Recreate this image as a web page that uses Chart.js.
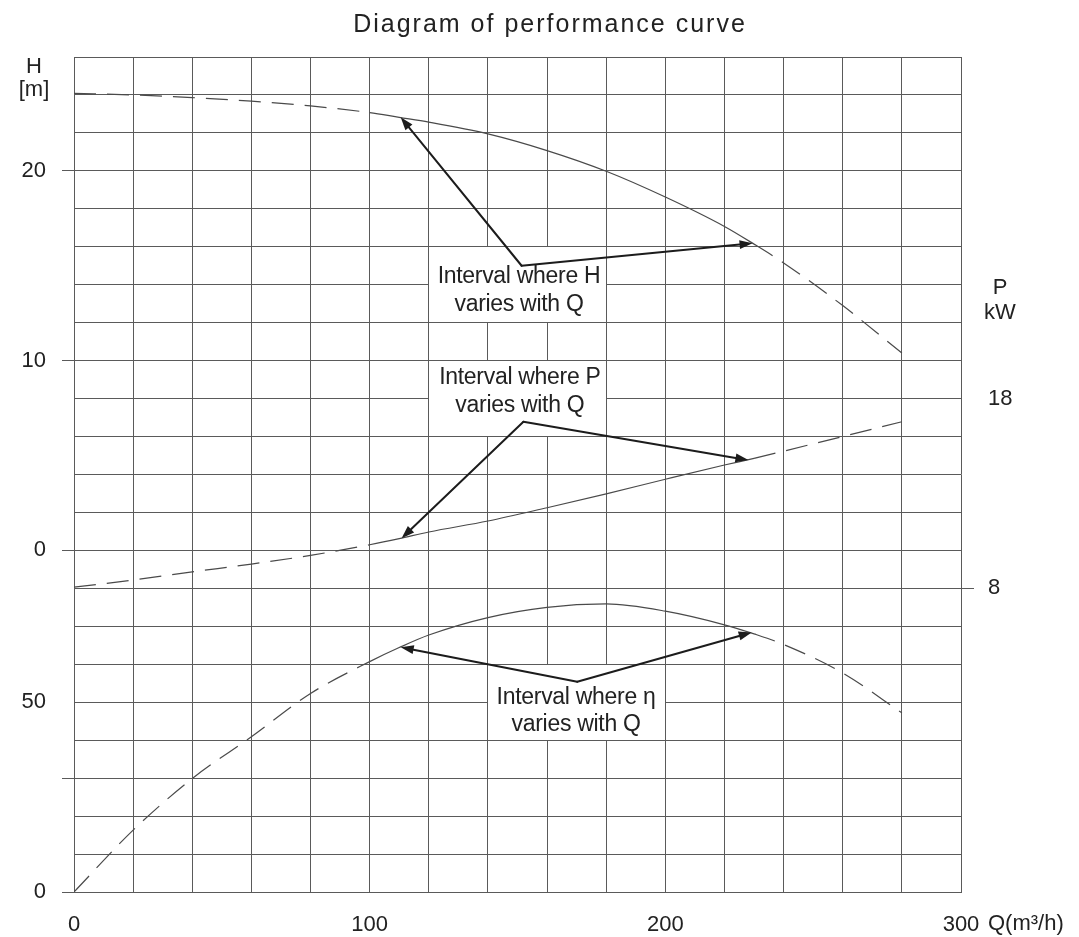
<!DOCTYPE html>
<html>
<head>
<meta charset="utf-8">
<script src="https://cdn.jsdelivr.net/npm/chart.js@4/dist/chart.umd.min.js"></script>
<style>
  html, body { margin: 0; padding: 0; background: #ffffff; }
  #wrap { width: 1079px; height: 937px; position: relative; }
</style>
</head>
<body>
<div id="wrap"><canvas id="c"></canvas></div>
<script>
// ---------- data ----------
const chartTitle = 'Diagram of performance curve';
const flowRates        = [0, 20, 40, 60, 80, 100, 110, 120, 140, 160, 180, 200, 220, 230, 240, 260, 280];
const headValues       = [24.08, 24.0, 23.86, 23.67, 23.42, 23.07, 22.82, 22.57, 21.95, 21.07, 19.98, 18.62, 17.07, 16.14, 15.15, 12.9, 10.4];
const powerValues      = [8.06, 8.44, 8.87, 9.28, 9.74, 10.3, 10.62, 10.97, 11.55, 12.25, 12.98, 13.75, 14.5, 14.85, 15.23, 16.0, 16.78];
const efficiencyValues = [0, 16.3, 29.9, 40.9, 52.3, 60.7, 64.4, 67.7, 72.3, 75.0, 75.9, 74.0, 70.4, 68.0, 65.2, 57.7, 47.2];
const solidInterval    = [100, 230];

const xTickLabels      = [0, 100, 200, 300];
const headTickLabels   = [0, 10, 20];
const effTickLabels    = [0, 50];
const effTickMarks     = [0, 30];
const powerTickLabels  = [8, 18];
const powerTickMarks   = [8];

const xUnit    = 'Q(m³/h)';
const headUnit = ['H', '[m]'];
const powerUnit = ['P', 'kW'];

const headNote  = ['Interval where H', 'varies with Q'];
const powerNote = ['Interval where P', 'varies with Q'];
const effNote   = ['Interval where η', 'varies with Q'];

// annotation anchors in data units [Q, value]
const headNoteAt  = [150.5, 14.41];
const powerNoteAt = [150.8, 19.08];
const effNoteAt   = [169.8, 51.25];
const headArrowFrom  = [151.4, 15.0];
const headArrowTo    = [[110.5, 22.82], [229.5, 16.18]];
const powerArrowFrom = [152.0, 16.78];
const powerArrowTo   = [[110.8, 10.64], [228.1, 14.76]];
const effArrowFrom   = [170.2, 55.4];
const effArrowTo     = [[110.5, 64.5], [229.2, 68.4]];
// white boxes behind notes: [Q0, Q1], [v0, v1]
const headBox  = [[120, 180], [12, 16]];
const powerBox = [[120, 180], [16, 20]];
const effBox   = [[140, 200], [40, 60]];

// ---------- styling ----------
const FONT = '"Liberation Sans", Arial, Helvetica, sans-serif';
const gridColor = '#5a5a5a';
const curveColor = '#4a4a4a';
const textColor = '#222222';
const dashPattern = [22, 11];
const clear = 'rgba(0,0,0,0)';
const LEFT_W = 74;

Chart.defaults.font.family = FONT;
Chart.defaults.font.size = 22;
Chart.defaults.color = textColor;

function series(values) {
  return flowRates.map((q, i) => ({ x: q, y: values[i] }));
}
function segDash(ctx) {
  const a = ctx.p0.parsed.x, b = ctx.p1.parsed.x;
  return (a >= solidInterval[0] && b <= solidInterval[1]) ? [] : dashPattern;
}
function curve(label, values, axis) {
  return {
    label, data: series(values), yAxisID: axis,
    borderColor: curveColor, borderWidth: 1.2, pointRadius: 0,
    cubicInterpolationMode: 'monotone', fill: false,
    segment: { borderDash: segDash }
  };
}

function drawArrow(ctx, x0, y0, x1, y1) {
  const ang = Math.atan2(y1 - y0, x1 - x0);
  const len = 13, hw = 4.5;
  const bx = x1 - len * Math.cos(ang), by = y1 - len * Math.sin(ang);
  ctx.beginPath();
  ctx.moveTo(x0, y0);
  ctx.lineTo(bx, by);
  ctx.stroke();
  ctx.beginPath();
  ctx.moveTo(x1, y1);
  ctx.lineTo(bx + hw * Math.sin(ang), by - hw * Math.cos(ang));
  ctx.lineTo(bx - hw * Math.sin(ang), by + hw * Math.cos(ang));
  ctx.closePath();
  ctx.fill();
}

const overlay = {
  id: 'overlay',
  afterLayout(chart) {
    // the efficiency axis shares the left strip with the head axis
    const e = chart.scales.yEta;
    e.right = chart.chartArea.left;
    e.left = e.right - LEFT_W;
    e.width = LEFT_W;
  },
  beforeDatasetsDraw(chart) {
    const { ctx, scales } = chart;
    ctx.save();
    ctx.fillStyle = '#ffffff';
    [[headBox, 'y'], [powerBox, 'yP'], [effBox, 'yEta']].forEach(([b, ax]) => {
      const sx = scales.x, sy = scales[ax];
      const xa = Math.round(sx.getPixelForValue(b[0][0]) - 0.5) + 1;
      const xb = Math.round(sx.getPixelForValue(b[0][1]) - 0.5);
      const ya = Math.round(sy.getPixelForValue(b[1][1]) - 0.5) + 1;
      const yb = Math.round(sy.getPixelForValue(b[1][0]) - 0.5);
      ctx.fillRect(xa, ya, xb - xa, yb - ya);
    });
    ctx.restore();
  },
  afterDatasetsDraw(chart) {
    const { ctx, scales } = chart;
    const sx = scales.x;
    ctx.save();
    ctx.strokeStyle = '#1c1c1c';
    ctx.fillStyle = '#1c1c1c';
    ctx.lineWidth = 2;
    ctx.lineCap = 'round';
    [[headArrowFrom, headArrowTo, 'y'], [powerArrowFrom, powerArrowTo, 'yP'], [effArrowFrom, effArrowTo, 'yEta']].forEach(([f, tos, ax]) => {
      const sy = scales[ax];
      const x0 = sx.getPixelForValue(f[0]), y0 = sy.getPixelForValue(f[1]);
      tos.forEach(t => drawArrow(ctx, x0, y0, sx.getPixelForValue(t[0]), sy.getPixelForValue(t[1])));
    });
    ctx.fillStyle = textColor;
    ctx.font = '23px ' + FONT;
    ctx.letterSpacing = '-0.3px';
    ctx.textAlign = 'center';
    ctx.textBaseline = 'middle';
    [[headNote, headNoteAt, 'y'], [powerNote, powerNoteAt, 'yP'], [effNote, effNoteAt, 'yEta']].forEach(([lines, at, ax]) => {
      const x = sx.getPixelForValue(at[0]), y = scales[ax].getPixelForValue(at[1]);
      lines.forEach((ln, i) => ctx.fillText(ln, x, y + i * 27.5));
    });
    ctx.restore();
  },
  afterDraw(chart) {
    const { ctx, chartArea } = chart;
    ctx.save();
    ctx.fillStyle = textColor;
    ctx.textBaseline = 'middle';
    // title
    ctx.font = '25px ' + FONT;
    ctx.letterSpacing = '2px';
    ctx.textAlign = 'center';
    ctx.fillText(chartTitle, 550, 25);
    ctx.letterSpacing = '0px';
    // axis units
    ctx.font = '22px ' + FONT;
    ctx.fillText(headUnit[0], chartArea.left - 40, chartArea.top + 10);
    ctx.fillText(headUnit[1], chartArea.left - 40, chartArea.top + 33);
    ctx.fillText(powerUnit[0], chartArea.right + 39, 288);
    ctx.fillText(powerUnit[1], chartArea.right + 39, 313);
    ctx.textAlign = 'left';
    ctx.fillText(xUnit, chartArea.right + 27, chartArea.bottom + 32);
    ctx.restore();
  }
};

new Chart(document.getElementById('c'), {
  type: 'line',
  data: {
    datasets: [
      curve('H', headValues, 'y'),
      curve('P', powerValues, 'yP'),
      curve('η', efficiencyValues, 'yEta')
    ]
  },
  options: {
    responsive: true,
    maintainAspectRatio: false,
    animation: false,
    layout: { padding: { top: 57, left: 0, right: 0, bottom: 0 } },
    plugins: { legend: { display: false }, tooltip: { enabled: false }, title: { display: false } },
    scales: {
      x: {
        type: 'linear', min: 0, max: 300,
        ticks: {
          stepSize: 20, maxTicksLimit: 100, autoSkip: false, maxRotation: 0, padding: 20,
          callback: v => xTickLabels.includes(v) ? String(v) : ''
        },
        grid: { color: gridColor, lineWidth: 1, drawTicks: false },
        border: { color: gridColor },
        afterFit: s => { s.height = 45; }
      },
      y: {
        position: 'left', weight: 10, min: -18, max: 26,
        ticks: {
          stepSize: 2, maxTicksLimit: 100, autoSkip: false, padding: 16,
          callback: v => headTickLabels.includes(v) ? String(v) : ''
        },
        grid: {
          color: gridColor, lineWidth: 1, drawTicks: true, tickLength: 12,
          tickColor: c => headTickLabels.includes(c.tick.value) ? gridColor : clear
        },
        border: { color: gridColor },
        afterFit: s => { s.width = LEFT_W; }
      },
      yEta: {
        position: 'left', weight: 0, min: 0, max: 220,
        afterBuildTicks: s => { s.ticks = [...new Set(effTickLabels.concat(effTickMarks))].map(v => ({ value: v })); },
        ticks: { autoSkip: false, padding: 16, callback: v => effTickLabels.includes(v) ? String(v) : '' },
        grid: {
          drawOnChartArea: false, drawTicks: true, tickLength: 12, color: gridColor,
          tickColor: c => effTickMarks.includes(c.tick.value) ? gridColor : clear
        },
        border: { display: false },
        afterFit: s => { s.width = 0; }
      },
      yP: {
        position: 'right', min: -8, max: 36,
        afterBuildTicks: s => { s.ticks = powerTickLabels.map(v => ({ value: v })); },
        ticks: { autoSkip: false, padding: 14, callback: v => powerTickLabels.includes(v) ? String(v) : '' },
        grid: {
          drawOnChartArea: false, drawTicks: true, tickLength: 13, color: gridColor,
          tickColor: c => powerTickMarks.includes(c.tick.value) ? gridColor : clear
        },
        border: { display: false },
        afterFit: s => { s.width = 118; }
      }
    }
  },
  plugins: [overlay]
});
</script>
</body>
</html>
